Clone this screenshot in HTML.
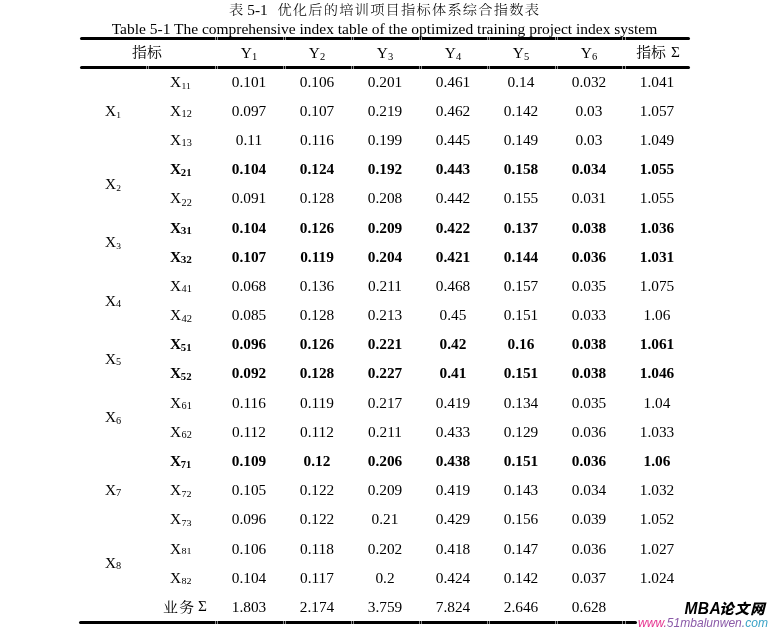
<!DOCTYPE html>
<html lang="zh"><head><meta charset="utf-8"><title>表 5-1</title>
<style>
html,body{margin:0;padding:0;background:#fff;}
body{width:769px;height:629px;position:relative;overflow:hidden;font-family:"Liberation Serif","Noto Serif CJK SC",serif;font-size:14px;color:#000;}
.t{position:absolute;left:0;width:769px;text-align:center;line-height:20px;height:20px;white-space:nowrap;transform:scaleX(1.096);}
.c{position:absolute;width:68px;margin-left:-34px;text-align:center;line-height:20px;height:20px;white-space:nowrap;transform:scaleX(1.096);}
.tl{position:absolute;line-height:20px;height:20px;white-space:nowrap;transform:scaleX(1.096);transform-origin:0 50%;}
.g{position:absolute;width:1.2px;height:4px;background:rgba(255,255,255,0.55);}
.b{font-weight:bold;}
sub{font-size:8.7px;vertical-align:baseline;position:relative;top:2px;line-height:0;}
sub.B{font-size:9.4px;top:0.8px;}
sub.C{font-size:9.4px;top:1.3px;}
sub.H{font-size:9.6px;top:2px;margin-left:0.3px;}
.l{position:absolute;left:170px;line-height:20px;height:20px;white-space:nowrap;transform:scaleX(1.096);transform-origin:0 50%;}
.l sub{margin-left:0.4px;}
.r{position:absolute;left:79.5px;width:610.5px;height:3px;background:#000;border-radius:1.5px;}
.zh{font-family:"Liberation Serif","Noto Serif CJK SC",serif;font-size:13.6px;line-height:0;position:relative;top:-1.5px;}
.wm1{position:absolute;left:684.5px;top:598.9px;font-family:"Liberation Sans","Noto Sans CJK SC",sans-serif;font-weight:bold;font-style:italic;font-size:15px;line-height:20px;white-space:nowrap;color:#000;}
.wm2{position:absolute;left:638px;top:615px;font-family:"Liberation Sans",sans-serif;font-style:italic;font-size:12.05px;line-height:16px;white-space:nowrap;}
</style></head><body>
<div class="tl" style="left:229.4px;top:0.5px"><span class="zh" style="top:-0.3px;font-size:13px;font-weight:300;margin-left:0.1px">表</span><span style="margin-left:3.5px">5-1</span><span class="zh" style="top:-0.3px;font-size:13px;font-weight:300;margin-left:8.9px;letter-spacing:1.1px">优化后的培训项目指标体系综合指数表</span></div>
<div class="t" style="top:20.3px;left:-0.5px;transform:scaleX(1.106)">Table 5-1 The comprehensive index table of the optimized training project index system</div>
<div class="r" style="top:37px"></div>
<div class="r" style="top:65.5px"></div>
<div class="r" style="top:621px;left:78.5px;width:558px"></div>
<div class="g" style="left:214.6px;top:36.5px"></div><div class="g" style="left:216.8px;top:36.5px"></div><div class="g" style="left:214.6px;top:65.0px"></div><div class="g" style="left:216.8px;top:65.0px"></div><div class="g" style="left:214.6px;top:620.5px"></div><div class="g" style="left:216.8px;top:620.5px"></div><div class="g" style="left:282.8px;top:36.5px"></div><div class="g" style="left:285.0px;top:36.5px"></div><div class="g" style="left:282.8px;top:65.0px"></div><div class="g" style="left:285.0px;top:65.0px"></div><div class="g" style="left:282.8px;top:620.5px"></div><div class="g" style="left:285.0px;top:620.5px"></div><div class="g" style="left:350.8px;top:36.5px"></div><div class="g" style="left:353.0px;top:36.5px"></div><div class="g" style="left:350.8px;top:65.0px"></div><div class="g" style="left:353.0px;top:65.0px"></div><div class="g" style="left:350.8px;top:620.5px"></div><div class="g" style="left:353.0px;top:620.5px"></div><div class="g" style="left:418.6px;top:36.5px"></div><div class="g" style="left:420.8px;top:36.5px"></div><div class="g" style="left:418.6px;top:65.0px"></div><div class="g" style="left:420.8px;top:65.0px"></div><div class="g" style="left:418.6px;top:620.5px"></div><div class="g" style="left:420.8px;top:620.5px"></div><div class="g" style="left:486.8px;top:36.5px"></div><div class="g" style="left:489.0px;top:36.5px"></div><div class="g" style="left:486.8px;top:65.0px"></div><div class="g" style="left:489.0px;top:65.0px"></div><div class="g" style="left:486.8px;top:620.5px"></div><div class="g" style="left:489.0px;top:620.5px"></div><div class="g" style="left:554.5px;top:36.5px"></div><div class="g" style="left:556.7px;top:36.5px"></div><div class="g" style="left:554.5px;top:65.0px"></div><div class="g" style="left:556.7px;top:65.0px"></div><div class="g" style="left:554.5px;top:620.5px"></div><div class="g" style="left:556.7px;top:620.5px"></div><div class="g" style="left:622.3px;top:36.5px"></div><div class="g" style="left:624.5px;top:36.5px"></div><div class="g" style="left:622.3px;top:65.0px"></div><div class="g" style="left:624.5px;top:65.0px"></div><div class="g" style="left:622.3px;top:620.5px"></div><div class="g" style="left:624.5px;top:620.5px"></div><div class="g" style="left:146.0px;top:65px"></div><div class="g" style="left:148.2px;top:65px"></div>
<div class="c" style="left:146.8px;top:44.28px"><span class="zh">指标</span></div>
<div class="c" style="left:248.5px;top:44.28px">Y<sub class="H">1</sub></div>
<div class="c" style="left:317.2px;top:44.28px">Y<sub class="H">2</sub></div>
<div class="c" style="left:384.5px;top:44.28px">Y<sub class="H">3</sub></div>
<div class="c" style="left:453px;top:44.28px">Y<sub class="H">4</sub></div>
<div class="c" style="left:521px;top:44.28px">Y<sub class="H">5</sub></div>
<div class="c" style="left:589px;top:44.28px">Y<sub class="H">6</sub></div>
<div class="c" style="left:657.5px;top:44.28px"><span class="zh">指标</span><span style="margin-left:4.5px;position:relative;top:-0.8px">Σ</span></div>
<div class="l" style="top:72.78px">X<sub style="font-size:8.7px;top:2.0px">11</sub></div><div class="c" style="left:248.5px;top:72.78px">0.101</div><div class="c" style="left:317.2px;top:72.78px">0.106</div><div class="c" style="left:384.5px;top:72.78px">0.201</div><div class="c" style="left:453px;top:72.78px">0.461</div><div class="c" style="left:521px;top:72.78px">0.14</div><div class="c" style="left:589px;top:72.78px">0.032</div><div class="c" style="left:656.5px;top:72.78px">1.041</div>
<div class="l" style="top:101.95px">X<sub style="font-size:9.4px;top:0.8px">12</sub></div><div class="c" style="left:248.5px;top:101.95px">0.097</div><div class="c" style="left:317.2px;top:101.95px">0.107</div><div class="c" style="left:384.5px;top:101.95px">0.219</div><div class="c" style="left:453px;top:101.95px">0.462</div><div class="c" style="left:521px;top:101.95px">0.142</div><div class="c" style="left:589px;top:101.95px">0.03</div><div class="c" style="left:656.5px;top:101.95px">1.057</div>
<div class="l" style="top:131.12px">X<sub style="font-size:9.4px;top:0.8px">13</sub></div><div class="c" style="left:248.5px;top:131.12px">0.11</div><div class="c" style="left:317.2px;top:131.12px">0.116</div><div class="c" style="left:384.5px;top:131.12px">0.199</div><div class="c" style="left:453px;top:131.12px">0.445</div><div class="c" style="left:521px;top:131.12px">0.149</div><div class="c" style="left:589px;top:131.12px">0.03</div><div class="c" style="left:656.5px;top:131.12px">1.049</div>
<div class="l b" style="top:160.29px">X<sub style="font-size:9.8px;top:2.2px;margin-left:-0.3px">21</sub></div><div class="c b" style="left:248.5px;top:160.29px">0.104</div><div class="c b" style="left:317.2px;top:160.29px">0.124</div><div class="c b" style="left:384.5px;top:160.29px">0.192</div><div class="c b" style="left:453px;top:160.29px">0.443</div><div class="c b" style="left:521px;top:160.29px">0.158</div><div class="c b" style="left:589px;top:160.29px">0.034</div><div class="c b" style="left:656.5px;top:160.29px">1.055</div>
<div class="l" style="top:189.46px">X<sub style="font-size:9.4px;top:2.1px">22</sub></div><div class="c" style="left:248.5px;top:189.46px">0.091</div><div class="c" style="left:317.2px;top:189.46px">0.128</div><div class="c" style="left:384.5px;top:189.46px">0.208</div><div class="c" style="left:453px;top:189.46px">0.442</div><div class="c" style="left:521px;top:189.46px">0.155</div><div class="c" style="left:589px;top:189.46px">0.031</div><div class="c" style="left:656.5px;top:189.46px">1.055</div>
<div class="l b" style="top:218.63px">X<sub style="font-size:10.2px;top:0.9px;margin-left:-0.3px">31</sub></div><div class="c b" style="left:248.5px;top:218.63px">0.104</div><div class="c b" style="left:317.2px;top:218.63px">0.126</div><div class="c b" style="left:384.5px;top:218.63px">0.209</div><div class="c b" style="left:453px;top:218.63px">0.422</div><div class="c b" style="left:521px;top:218.63px">0.137</div><div class="c b" style="left:589px;top:218.63px">0.038</div><div class="c b" style="left:656.5px;top:218.63px">1.036</div>
<div class="l b" style="top:247.80px">X<sub style="font-size:10.2px;top:0.9px;margin-left:-0.3px">32</sub></div><div class="c b" style="left:248.5px;top:247.80px">0.107</div><div class="c b" style="left:317.2px;top:247.80px">0.119</div><div class="c b" style="left:384.5px;top:247.80px">0.204</div><div class="c b" style="left:453px;top:247.80px">0.421</div><div class="c b" style="left:521px;top:247.80px">0.144</div><div class="c b" style="left:589px;top:247.80px">0.036</div><div class="c b" style="left:656.5px;top:247.80px">1.031</div>
<div class="l" style="top:276.97px">X<sub style="font-size:9.4px;top:1.1px">41</sub></div><div class="c" style="left:248.5px;top:276.97px">0.068</div><div class="c" style="left:317.2px;top:276.97px">0.136</div><div class="c" style="left:384.5px;top:276.97px">0.211</div><div class="c" style="left:453px;top:276.97px">0.468</div><div class="c" style="left:521px;top:276.97px">0.157</div><div class="c" style="left:589px;top:276.97px">0.035</div><div class="c" style="left:656.5px;top:276.97px">1.075</div>
<div class="l" style="top:306.14px">X<sub style="font-size:9.6px;top:1.9px">42</sub></div><div class="c" style="left:248.5px;top:306.14px">0.085</div><div class="c" style="left:317.2px;top:306.14px">0.128</div><div class="c" style="left:384.5px;top:306.14px">0.213</div><div class="c" style="left:453px;top:306.14px">0.45</div><div class="c" style="left:521px;top:306.14px">0.151</div><div class="c" style="left:589px;top:306.14px">0.033</div><div class="c" style="left:656.5px;top:306.14px">1.06</div>
<div class="l b" style="top:335.31px">X<sub style="font-size:9.8px;top:2.2px;margin-left:-0.3px">51</sub></div><div class="c b" style="left:248.5px;top:335.31px">0.096</div><div class="c b" style="left:317.2px;top:335.31px">0.126</div><div class="c b" style="left:384.5px;top:335.31px">0.221</div><div class="c b" style="left:453px;top:335.31px">0.42</div><div class="c b" style="left:521px;top:335.31px">0.16</div><div class="c b" style="left:589px;top:335.31px">0.038</div><div class="c b" style="left:656.5px;top:335.31px">1.061</div>
<div class="l b" style="top:364.48px">X<sub style="font-size:9.8px;top:1.3px;margin-left:-0.3px">52</sub></div><div class="c b" style="left:248.5px;top:364.48px">0.092</div><div class="c b" style="left:317.2px;top:364.48px">0.128</div><div class="c b" style="left:384.5px;top:364.48px">0.227</div><div class="c b" style="left:453px;top:364.48px">0.41</div><div class="c b" style="left:521px;top:364.48px">0.151</div><div class="c b" style="left:589px;top:364.48px">0.038</div><div class="c b" style="left:656.5px;top:364.48px">1.046</div>
<div class="l" style="top:393.65px">X<sub style="font-size:9.4px;top:1.0px">61</sub></div><div class="c" style="left:248.5px;top:393.65px">0.116</div><div class="c" style="left:317.2px;top:393.65px">0.119</div><div class="c" style="left:384.5px;top:393.65px">0.217</div><div class="c" style="left:453px;top:393.65px">0.419</div><div class="c" style="left:521px;top:393.65px">0.134</div><div class="c" style="left:589px;top:393.65px">0.035</div><div class="c" style="left:656.5px;top:393.65px">1.04</div>
<div class="l" style="top:422.82px">X<sub style="font-size:9.4px;top:1.0px">62</sub></div><div class="c" style="left:248.5px;top:422.82px">0.112</div><div class="c" style="left:317.2px;top:422.82px">0.112</div><div class="c" style="left:384.5px;top:422.82px">0.211</div><div class="c" style="left:453px;top:422.82px">0.433</div><div class="c" style="left:521px;top:422.82px">0.129</div><div class="c" style="left:589px;top:422.82px">0.036</div><div class="c" style="left:656.5px;top:422.82px">1.033</div>
<div class="l b" style="top:451.99px">X<sub style="font-size:9.6px;top:2.0px;margin-left:-0.3px">71</sub></div><div class="c b" style="left:248.5px;top:451.99px">0.109</div><div class="c b" style="left:317.2px;top:451.99px">0.12</div><div class="c b" style="left:384.5px;top:451.99px">0.206</div><div class="c b" style="left:453px;top:451.99px">0.438</div><div class="c b" style="left:521px;top:451.99px">0.151</div><div class="c b" style="left:589px;top:451.99px">0.036</div><div class="c b" style="left:656.5px;top:451.99px">1.06</div>
<div class="l" style="top:481.16px">X<sub style="font-size:9.2px;top:2.1px">72</sub></div><div class="c" style="left:248.5px;top:481.16px">0.105</div><div class="c" style="left:317.2px;top:481.16px">0.122</div><div class="c" style="left:384.5px;top:481.16px">0.209</div><div class="c" style="left:453px;top:481.16px">0.419</div><div class="c" style="left:521px;top:481.16px">0.143</div><div class="c" style="left:589px;top:481.16px">0.034</div><div class="c" style="left:656.5px;top:481.16px">1.032</div>
<div class="l" style="top:510.33px">X<sub style="font-size:9.2px;top:1.6px">73</sub></div><div class="c" style="left:248.5px;top:510.33px">0.096</div><div class="c" style="left:317.2px;top:510.33px">0.122</div><div class="c" style="left:384.5px;top:510.33px">0.21</div><div class="c" style="left:453px;top:510.33px">0.429</div><div class="c" style="left:521px;top:510.33px">0.156</div><div class="c" style="left:589px;top:510.33px">0.039</div><div class="c" style="left:656.5px;top:510.33px">1.052</div>
<div class="l" style="top:539.50px">X<sub style="font-size:9.2px;top:0.9px">81</sub></div><div class="c" style="left:248.5px;top:539.50px">0.106</div><div class="c" style="left:317.2px;top:539.50px">0.118</div><div class="c" style="left:384.5px;top:539.50px">0.202</div><div class="c" style="left:453px;top:539.50px">0.418</div><div class="c" style="left:521px;top:539.50px">0.147</div><div class="c" style="left:589px;top:539.50px">0.036</div><div class="c" style="left:656.5px;top:539.50px">1.027</div>
<div class="l" style="top:568.67px">X<sub style="font-size:9.2px;top:0.9px">82</sub></div><div class="c" style="left:248.5px;top:568.67px">0.104</div><div class="c" style="left:317.2px;top:568.67px">0.117</div><div class="c" style="left:384.5px;top:568.67px">0.2</div><div class="c" style="left:453px;top:568.67px">0.424</div><div class="c" style="left:521px;top:568.67px">0.142</div><div class="c" style="left:589px;top:568.67px">0.037</div><div class="c" style="left:656.5px;top:568.67px">1.024</div>
<div class="c" style="left:185px;top:597.84px"><span class="zh" style="letter-spacing:1.2px;top:-0.2px">业务</span><span style="margin-left:2.5px;position:relative;top:-0.9px">Σ</span></div><div class="c" style="left:248.5px;top:597.84px">1.803</div><div class="c" style="left:317.2px;top:597.84px">2.174</div><div class="c" style="left:384.5px;top:597.84px">3.759</div><div class="c" style="left:453px;top:597.84px">7.824</div><div class="c" style="left:521px;top:597.84px">2.646</div><div class="c" style="left:589px;top:597.84px">0.628</div>
<div class="c" style="left:112.5px;top:101.95px">X<sub>1</sub></div>
<div class="c" style="left:112.5px;top:174.88px">X<sub>2</sub></div>
<div class="c" style="left:112.5px;top:233.22px">X<sub>3</sub></div>
<div class="c" style="left:112.5px;top:291.55px">X<sub class="C">4</sub></div>
<div class="c" style="left:112.5px;top:349.89px">X<sub class="C">5</sub></div>
<div class="c" style="left:112.5px;top:408.24px">X<sub class="C">6</sub></div>
<div class="c" style="left:112.5px;top:481.16px">X<sub class="C">7</sub></div>
<div class="c" style="left:112.5px;top:554.09px">X<sub class="C">8</sub></div>
<div class="wm1"><span style="font-size:15.6px;letter-spacing:0.35px">MBA</span><span style="font-size:14.4px;font-weight:900;letter-spacing:1.1px;margin-left:-1.8px;position:relative;top:0.3px">论文网</span></div>
<div class="wm2"><span style="color:#e6338f">www</span><span style="color:#b84aa0">.</span><span style="color:#8b5aa8">51mbalunwen</span><span style="color:#6a7ab8">.</span><span style="color:#38a2c6">com</span></div>
</body></html>
